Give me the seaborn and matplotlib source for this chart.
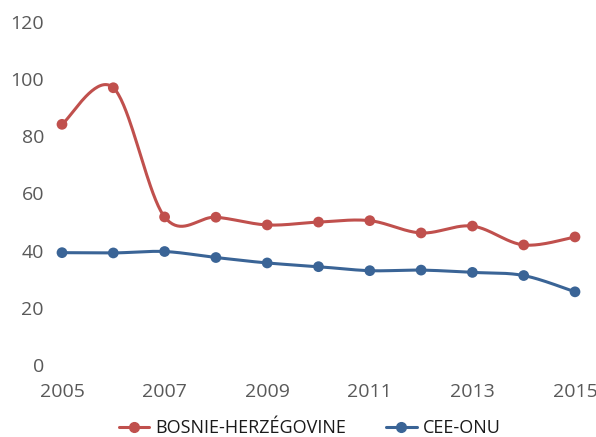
import numpy as np
import pandas as pd
import matplotlib
matplotlib.use("Agg")
import matplotlib.pyplot as plt
import seaborn as sns

years = [2005, 2006, 2007, 2008, 2009, 2010, 2011, 2012, 2013, 2014, 2015]
bosnie = [84.2, 97.0, 51.8, 51.7, 49.0, 50.0, 50.5, 46.2, 48.6, 42.0, 44.8]
cee_onu = [39.3, 39.2, 39.7, 37.6, 35.7, 34.4, 33.0, 33.2, 32.4, 31.3, 25.6]

red = "#C0504D"
blue = "#3A6496"


def smooth(x, y, n=40):
    # Excel-like smoothing: cubic Bezier with Catmull-Rom control points
    x = np.asarray(x, float)
    y = np.asarray(y, float)
    px, py = [], []
    for i in range(len(x) - 1):
        x0, y0 = (x[i - 1], y[i - 1]) if i > 0 else (x[i], y[i])
        x3, y3 = (x[i + 2], y[i + 2]) if i + 2 < len(x) else (x[i + 1], y[i + 1])
        c1x = x[i] + (x[i + 1] - x0) / 6
        c1y = y[i] + (y[i + 1] - y0) / 6
        c2x = x[i + 1] - (x3 - x[i]) / 6
        c2y = y[i + 1] - (y3 - y[i]) / 6
        t = np.linspace(0, 1, n, endpoint=(i == len(x) - 2))
        a = (1 - t) ** 3
        b = 3 * (1 - t) ** 2 * t
        c = 3 * (1 - t) * t ** 2
        d = t ** 3
        px.extend(a * x[i] + b * c1x + c * c2x + d * x[i + 1])
        py.extend(a * y[i] + b * c1y + c * c2y + d * y[i + 1])
    return np.array(px), np.array(py)


sns.set_style("white")
plt.rcParams["font.family"] = ["Open Sans", "DejaVu Sans"]

fig = plt.figure(figsize=(5.96, 4.37), dpi=100)
ax = fig.add_axes([62 / 596, 72 / 437, (575 - 62) / 596, (365 - 22) / 437])

for name, vals, col in [("BOSNIE-HERZÉGOVINE", bosnie, red), ("CEE-ONU", cee_onu, blue)]:
    sx, sy = smooth(years, vals)
    curve = pd.DataFrame({"x": sx, "y": sy})
    sns.lineplot(data=curve, x="x", y="y", ax=ax, color=col, linewidth=2.2,
                 sort=False, estimator=None)
    pts = pd.DataFrame({"x": years, "y": vals})
    sns.scatterplot(data=pts, x="x", y="y", ax=ax, color=col, s=60,
                    edgecolor="none", zorder=3, clip_on=False)
    ax.plot([], [], color=col, linewidth=2.2, marker="o", markersize=7, label=name)

ax.set_xlim(2005, 2015)
ax.set_ylim(0, 120)
ax.set_xticks(range(2005, 2016, 2))
ax.set_yticks(range(0, 121, 20))
ax.set_xlabel("")
ax.set_ylabel("")
for s in ax.spines.values():
    s.set_visible(False)
ax.tick_params(axis="both", length=0, labelsize=14, colors="#595959")
ax.tick_params(axis="x", pad=13)
ax.tick_params(axis="y", pad=13)

leg = ax.legend(loc="center", bbox_to_anchor=(0.483, -0.184), ncol=2, frameon=False,
                fontsize=13, handlelength=1.7, columnspacing=2.2, handletextpad=0.35)
for t in leg.get_texts():
    t.set_color("#1a1a1a")

fig.savefig("out.png", dpi=100)
